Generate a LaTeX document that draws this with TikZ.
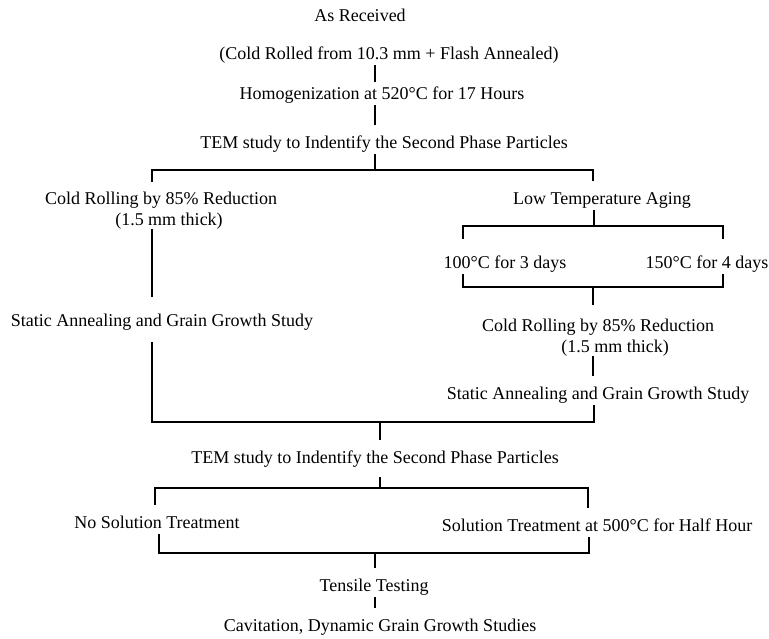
\documentclass[tikz,border=0pt]{standalone}
\usepackage{fontspec}
\setmainfont{Liberation Serif}
\begin{document}
\begin{tikzpicture}[x=1pt,y=-1pt,
  lbl/.style={font=\fontsize{18}{22}\selectfont, inner xsep=0pt, inner ysep=1pt,
              text height=22pt, text depth=5pt, anchor=base},
  lbl2/.style={font=\fontsize{18}{21}\selectfont, align=center, inner xsep=0pt,
               inner ysep=0pt, anchor=north},
  ln/.style={line width=1.8pt}]
\useasboundingbox[fill=white] (0,0) rectangle (769,638);

% labels (anchor base = visual centre + 6)
\node[lbl] (recv) at (360,21) {As Received};
\node[lbl] (cold) at (389,59) {(Cold Rolled from 10.3 mm + Flash Annealed)};
\node[lbl] (homo) at (382,99) {Homogenization at 520°C for 17 Hours};
\node[lbl] (tem1) at (384,148) {TEM study to Indentify the Second Phase Particles};
\node[lbl2] (crL) at (161,191.7) {Cold Rolling by 85\% Reduction\\\hspace*{16pt}(1.5 mm thick)};
\node[lbl] (staL) at (162,326) {Static Annealing and Grain Growth Study};
\node[lbl] (lta) at (602,204) {Low Temperature Aging};
\node[lbl] (d100) at (505,268) {100°C for 3 days};
\node[lbl] (d150) at (707,268) {150°C for 4 days};
\node[lbl2] (crR) at (598,318.7) {Cold Rolling by 85\% Reduction\\\hspace*{34pt}(1.5 mm thick)};
\node[lbl] (staR) at (598,399) {Static Annealing and Grain Growth Study};
\node[lbl] (tem2) at (375,463) {TEM study to Indentify the Second Phase Particles};
\node[lbl] (nosol) at (157,528) {No Solution Treatment};
\node[lbl] (sol) at (597,531) {Solution Treatment at 500°C for Half Hour};
\node[lbl] (tens) at (374,591) {Tensile Testing};
\node[lbl] (cav) at (380,631) {Cavitation, Dynamic Grain Growth Studies};

% junction points
\coordinate (s1) at (375,170);
\coordinate (bL) at (152,170);
\coordinate (bR) at (593,170);
\coordinate (jL) at (152,422);
\coordinate (jR) at (594,422);
\coordinate (s2) at (380,422);
\coordinate (s3) at (594,226);
\coordinate (aL) at (463,226);
\coordinate (aR) at (723,226);
\coordinate (cL) at (463,287);
\coordinate (cR) at (723,287);
\coordinate (s4) at (593,287);
\coordinate (s5) at (380,488);
\coordinate (eL) at (155,488);
\coordinate (eR) at (588,488);
\coordinate (fL) at (159,553);
\coordinate (fR) at (589,553);
\coordinate (s6) at (375,553);

% main spine
\draw[ln, shorten >=-6pt] (cold.south -| s1) -- (homo.north -| s1);
\draw[ln] (homo.south -| s1) -- (tem1.north -| s1);
\draw[ln] (tem1.south -| s1) -- (s1);

% first branch
\draw[ln, shorten <=9.7pt] (crL.north -| bL) -- (bL) -- (bR) -- (lta.north -| bR);
\draw[ln, shorten >=6pt] (crL.south -| bL) -- (staL.north -| bL);

% ageing branch
\draw[ln] (lta.south -| s3) -- (s3);
\draw[ln, shorten <=6pt, shorten >=6pt] (d100.north -| aL) -- (aL) -- (aR) -- (d150.north -| aR);
\draw[ln] (d100.south -| cL) -- (cL) -- (cR) -- (d150.south -| cR);
\draw[ln, shorten >=13.7pt] (s4) -- (crR.north -| s4);
\draw[ln] (crR.south -| s4) -- (staR.north -| s4);

% join
\draw[ln, shorten <=10pt] (staL.south -| jL) -- (jL) -- (jR) -- (staR.south -| jR);
\draw[ln] (s2) -- (tem2.north -| s2);

% solution branch
\draw[ln, shorten <=8pt] (tem2.south -| s5) -- (s5);
\draw[ln] (nosol.north -| eL) -- (eL) -- (eR) -- (sol.north -| eR);
\draw[ln] (nosol.south -| fL) -- (fL) -- (fR) -- (sol.south -| fR);
\draw[ln] (s6) -- (tens.north -| s6);
\draw[ln] (tens.south -| s6) -- (cav.north -| s6);
\end{tikzpicture}
\end{document}
